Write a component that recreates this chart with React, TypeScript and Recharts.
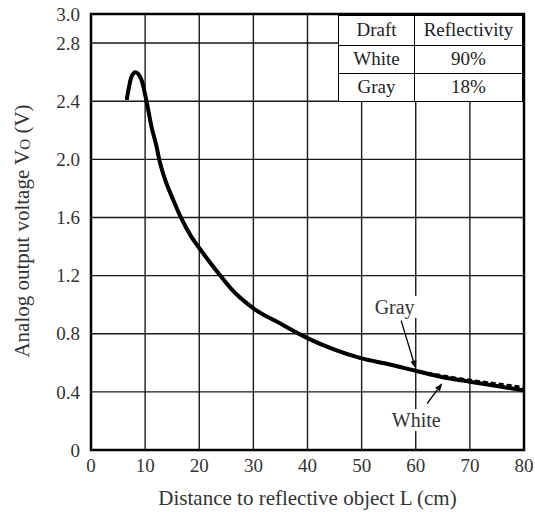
import { CartesianGrid, Line, LineChart, ReferenceArea, ReferenceDot, ReferenceLine, XAxis, YAxis } from "recharts";

const distance = [6.6, 7.5, 8.2, 9.3, 10.2, 11.2, 12.1, 12.6, 13.6, 15.2, 16.6, 18.5, 20, 22.2, 24, 26, 30, 35, 40, 45, 50, 55, 60, 65, 70, 75, 80];
const white = [2.41, 2.57, 2.6, 2.55, 2.41, 2.22, 2.09, 2.0, 1.87, 1.72, 1.6, 1.47, 1.39, 1.28, 1.195, 1.105, 0.975, 0.87, 0.77, 0.69, 0.63, 0.59, 0.545, 0.5, 0.47, 0.44, 0.41];
const gray = [2.41, 2.57, 2.6, 2.55, 2.41, 2.22, 2.09, 2.0, 1.87, 1.72, 1.6, 1.47, 1.39, 1.28, 1.195, 1.105, 0.975, 0.87, 0.77, 0.69, 0.63, 0.59, 0.545, 0.51, 0.48, 0.455, 0.43];

const xTicks = [0, 10, 20, 30, 40, 50, 60, 70, 80];
const yTicks = [0, 0.4, 0.8, 1.2, 1.6, 2.0, 2.4, 2.8, 3.0];

const tableRows = [
  { draft: "White", reflectivity: "90%" },
  { draft: "Gray", reflectivity: "18%" },
];

const data = distance.map((d, i) => ({ d, white: white[i], gray: gray[i] }));

const font = "'Liberation Serif', 'DejaVu Serif', serif";

function YTitle() {
  return (
    <text x={22} y={231} transform="rotate(-90, 22, 231)" textAnchor="middle" dominantBaseline="central" fontFamily={font} fontSize={21} fill="#333">
      Analog output voltage V<tspan fontSize={15} dy={3}>O</tspan>
      <tspan dy={-3}> (V)</tspan>
    </text>
  );
}

function Arrow(props: any) {
  const { x1, y1, x2, y2 } = props;
  const a = Math.atan2(y2 - y1, x2 - x1);
  const len = 8;
  const w = 3;
  const bx = x2 - len * Math.cos(a);
  const by = y2 - len * Math.sin(a);
  const px = -Math.sin(a) * w;
  const py = Math.cos(a) * w;
  return (
    <g>
      <line x1={x1} y1={y1} x2={bx} y2={by} stroke="#000" strokeWidth={1.3} />
      <polygon points={`${x2},${y2} ${bx + px},${by + py} ${bx - px},${by - py}`} fill="#000" />
    </g>
  );
}

function tagShape(text: string, w: number) {
  return (props: any) => (
    <g>
      <rect x={props.cx - w / 2} y={props.cy - 11} width={w} height={22} fill="#fff" />
      <text x={props.cx} y={props.cy} textAnchor="middle" dominantBaseline="central" fontFamily={font} fontSize={20} fill="#333">
        {text}
      </text>
    </g>
  );
}

const cell: React.CSSProperties = {
  border: "1.5px solid #000",
  padding: 0,
  textAlign: "center",
  fontFamily: font,
  fontSize: 19,
  color: "#222",
  fontWeight: "normal",
};

export default function App() {
  return (
    <div style={{ position: "absolute", left: 0, top: 0, width: 535, height: 512, background: "#fff" }}>
      <LineChart width={535} height={512} data={data} margin={{ top: 14, right: 11, bottom: 0, left: 0 }}>
        <CartesianGrid stroke="#000" strokeWidth={1.4} strokeOpacity={0.9} />
        <XAxis
          dataKey="d"
          type="number"
          domain={[0, 80]}
          ticks={xTicks}
          height={62}
          tickSize={0}
          tickMargin={9}
          axisLine={false}
          tick={{ fontFamily: font, fontSize: 19, fill: "#333" }}
          label={{ value: "Distance to reflective object L (cm)", position: "insideBottom", offset: 7, fontFamily: font, fontSize: 21, fill: "#333" }}
        />
        <YAxis
          type="number"
          domain={[0, 3]}
          ticks={yTicks}
          width={91}
          tickSize={0}
          tickMargin={11}
          axisLine={false}
          tickFormatter={(v: number) => (v === 0 ? "0" : v.toFixed(1))}
          tick={{ fontFamily: font, fontSize: 19, fill: "#333" }}
          label={<YTitle />}
        />
        <ReferenceArea x1={0} x2={80} y1={0} y2={3} fill="none" stroke="#000" strokeWidth={2.5} ifOverflow="visible" />
        <ReferenceDot x={56.1} y={0.985} r={0} shape={tagShape("Gray", 46)} ifOverflow="visible" />
        <ReferenceDot x={60.1} y={0.206} r={0} shape={tagShape("White", 54)} ifOverflow="visible" />
        <ReferenceLine segment={[{ x: 57.3, y: 0.89 }, { x: 60, y: 0.56 }]} shape={Arrow} ifOverflow="visible" />
        <ReferenceLine segment={[{ x: 62.1, y: 0.32 }, { x: 64.9, y: 0.46 }]} shape={Arrow} ifOverflow="visible" />
        <Line dataKey="white" type="monotone" stroke="#000" strokeWidth={4} dot={false} isAnimationActive={false} />
        <Line dataKey="gray" type="monotone" stroke="#000" strokeWidth={3} strokeDasharray="5 3" dot={false} isAnimationActive={false} />
      </LineChart>
      <table
        style={{
          position: "absolute",
          left: 338,
          top: 14,
          width: 186,
          borderCollapse: "collapse",
          background: "#fff",
        }}
      >
        <tbody>
          <tr style={{ height: 30 }}>
            <th style={{ ...cell, width: 75, borderTopWidth: 2.5 }}>Draft</th>
            <th style={{ ...cell, borderTopWidth: 2.5, borderRightWidth: 2.5 }}>Reflectivity</th>
          </tr>
          {tableRows.map((r) => (
            <tr key={r.draft} style={{ height: 28 }}>
              <td style={cell}>{r.draft}</td>
              <td style={{ ...cell, borderRightWidth: 2.5 }}>{r.reflectivity}</td>
            </tr>
          ))}
        </tbody>
      </table>
    </div>
  );
}
